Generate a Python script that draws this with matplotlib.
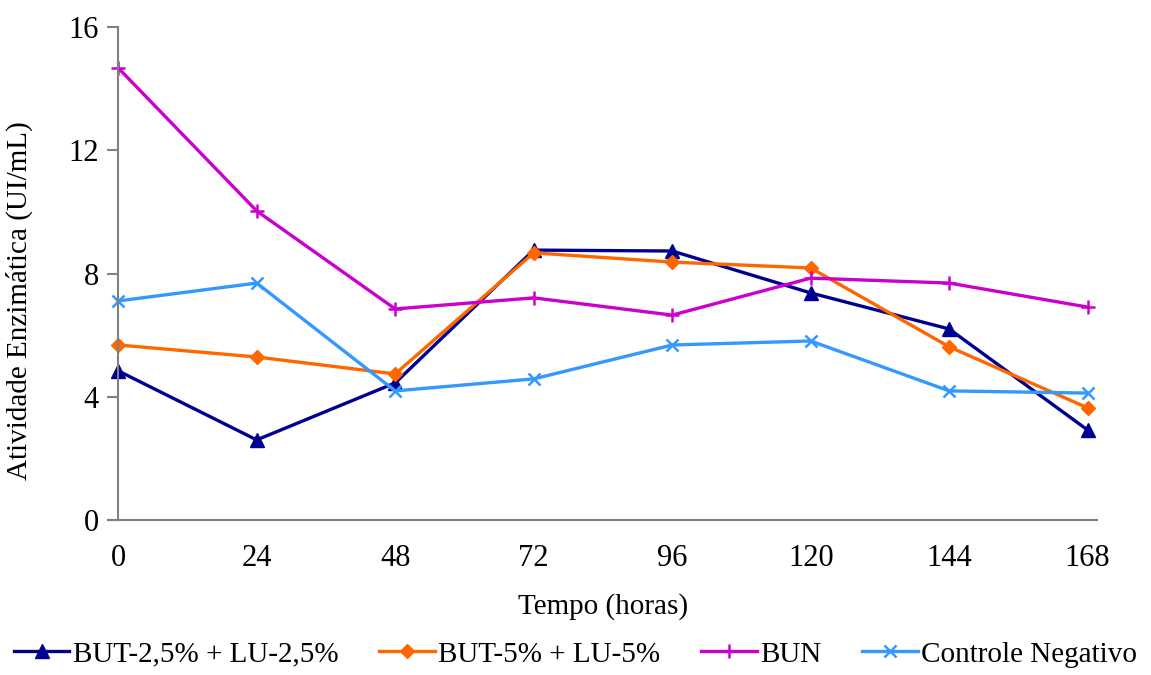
import matplotlib
matplotlib.use('Agg')
import matplotlib.pyplot as plt

plt.rcParams['font.family'] = ['Liberation Serif', 'DejaVu Serif']

horas = [0, 24, 48, 72, 96, 120, 144, 168]
but25 = [4.84, 2.60, 4.45, 8.76, 8.73, 7.37, 6.20, 2.92]
but5 = [5.68, 5.29, 4.74, 8.67, 8.37, 8.18, 5.62, 3.64]
bun = [14.67, 10.03, 6.85, 7.21, 6.65, 7.85, 7.69, 6.91]
controle = [7.11, 7.69, 4.19, 4.58, 5.68, 5.81, 4.19, 4.12]

fig = plt.figure(figsize=(11.51, 6.75), dpi=100)
ax = fig.add_axes([0.0947, 0.2296, 0.8583, 0.7304])

ax.plot(horas, but25, color='#000090', lw=2.4, marker='^', ms=10, label='BUT-2,5% + LU-2,5%')
ax.plot(horas, but5, color='#FF6600', lw=2.4, marker='D', ms=7, label='BUT-5% + LU-5%')
ax.plot(horas, bun, color='#CC00CC', lw=2.4, marker='+', ms=10, mew=1.8, label='BUN')
ax.plot(horas, controle, color='#3399FF', lw=2.4, marker='x', ms=9, mew=1.8, label='Controle Negativo')

ax.set_xlim(-1.6, 169.6)
ax.set_ylim(0, 16)
ax.set_yticks([0, 4, 8, 12, 16])
ax.set_xticks(horas)
ax.tick_params(axis='x', length=0, pad=17, labelsize=22)
ax.tick_params(axis='y', length=8, width=1.5, color='#808080', pad=6, labelsize=22)
for s in ['top', 'right']:
    ax.spines[s].set_visible(False)
ax.spines['left'].set_position(('data', 0))
ax.spines['left'].set_color('#808080')
ax.spines['bottom'].set_color('#808080')
ax.spines['left'].set_linewidth(1.5)
ax.spines['bottom'].set_linewidth(1.5)
for c in ax.lines:
    c.set_clip_on(False)

ax.set_xlabel('Tempo (horas)', fontsize=21, labelpad=15)
ax.set_ylabel('Atividade Enzimática (UI/mL)', fontsize=21)
ax.yaxis.set_label_coords(-0.077, 0.445)

# legend row along the bottom edge
fig.legend(loc='lower center', bbox_to_anchor=(0.5, -0.028), ncol=4, frameon=False,
           fontsize=21, handlelength=1.9, handletextpad=0.12, columnspacing=1.4)

fig.savefig('out.png', dpi=100)
